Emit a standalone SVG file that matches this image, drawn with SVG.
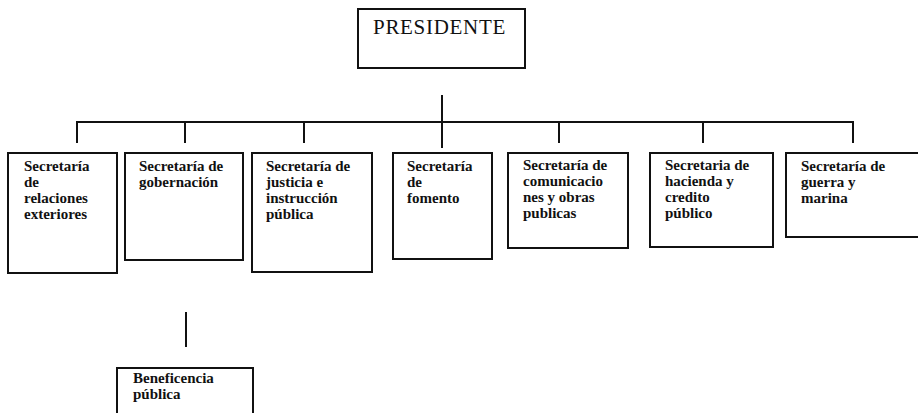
<svg xmlns="http://www.w3.org/2000/svg" width="918" height="413" viewBox="0 0 918 413">
<style>
.box{fill:#fff;stroke:#111;stroke-width:2}
.ln{fill:none;stroke:#111;stroke-width:2}
.t{font-family:"Liberation Serif","Times New Roman",serif;font-size:15px;font-weight:bold;fill:#111}
.p{font-family:"Liberation Serif","Times New Roman",serif;font-size:21px;letter-spacing:0.7px;fill:#111}
</style>
<rect width="918" height="413" fill="#fff"/>
<g id="connectors">
<path class="ln" d="M442 95V148"/>
<path class="ln" d="M77 143V122H853V143"/>
<path class="ln" d="M185 122V143M304 122V143M559 122V143M703 122V143"/>
<path class="ln" d="M186 312V347"/>
</g>
<g id="presidente">
<rect class="box" x="358" y="9" width="167" height="59"/>
<text class="p" x="373" y="34">PRESIDENTE</text>
</g>
<g id="relaciones">
<rect class="box" x="8" y="153" width="109" height="120"/>
<text class="t" x="24" y="171">Secretaría</text>
<text class="t" x="24" y="187">de</text>
<text class="t" x="24" y="203">relaciones</text>
<text class="t" x="24" y="219">exteriores</text>
</g>
<g id="gobernacion">
<rect class="box" x="125" y="153" width="118" height="107"/>
<text class="t" x="139" y="171">Secretaría de</text>
<text class="t" x="139" y="187">gobernación</text>
</g>
<g id="justicia">
<rect class="box" x="252" y="153" width="120" height="119"/>
<text class="t" x="266" y="171">Secretaría de</text>
<text class="t" x="266" y="187">justicia e</text>
<text class="t" x="266" y="203">instrucción</text>
<text class="t" x="266" y="219">pública</text>
</g>
<g id="fomento">
<rect class="box" x="393" y="153" width="99" height="106"/>
<text class="t" x="407" y="171">Secretaría</text>
<text class="t" x="407" y="187">de</text>
<text class="t" x="407" y="203">fomento</text>
</g>
<g id="comunicaciones">
<rect class="box" x="508" y="153" width="120" height="95"/>
<text class="t" x="523" y="170">Secretaría de</text>
<text class="t" x="523" y="186">comunicacio</text>
<text class="t" x="523" y="202">nes y obras</text>
<text class="t" x="523" y="218">publicas</text>
</g>
<g id="hacienda">
<rect class="box" x="650" y="153" width="123" height="94"/>
<text class="t" x="665" y="170">Secretaria de</text>
<text class="t" x="665" y="186">hacienda y</text>
<text class="t" x="665" y="202">credito</text>
<text class="t" x="665" y="218">público</text>
</g>
<g id="guerra">
<rect class="box" x="786" y="153" width="140" height="84"/>
<text class="t" x="801" y="171">Secretaría de</text>
<text class="t" x="801" y="187">guerra y</text>
<text class="t" x="801" y="203">marina</text>
</g>
<g id="beneficencia">
<rect class="box" x="117" y="368" width="136" height="60"/>
<text class="t" x="133" y="383">Beneficencia</text>
<text class="t" x="133" y="399">pública</text>
</g>
</svg>
